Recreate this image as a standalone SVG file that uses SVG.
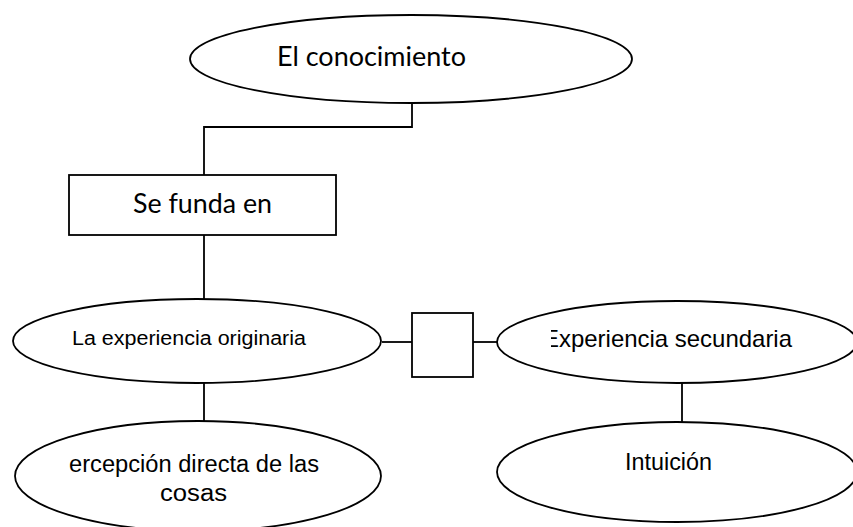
<svg xmlns="http://www.w3.org/2000/svg" width="853" height="527" viewBox="0 0 853 527">
<defs>
<style>
.shape{fill:#fff;stroke:#000;stroke-width:1.8}
.conn{fill:none;stroke:#000;stroke-width:1.8}
.cal{font-family:Lato,"Open Sans","Noto Sans",sans-serif;fill:#000}
.ar{font-family:"Liberation Sans",Arial,sans-serif;fill:#000}
</style>
<clipPath id="clipSec"><rect x="551" y="290" width="310" height="100"/></clipPath>
</defs>
<rect width="853" height="527" fill="#fff"/>
<g id="connectors">
<polyline class="conn" points="412,103 412,127 204,127 204,175"/>
<line class="conn" x1="204" y1="235" x2="204" y2="300"/>
<line class="conn" x1="382" y1="342" x2="412" y2="342"/>
<line class="conn" x1="473" y1="342" x2="497" y2="342"/>
<line class="conn" x1="204" y1="383" x2="204" y2="421"/>
<line class="conn" x1="682" y1="383" x2="682" y2="422"/>
</g>
<g id="node-conocimiento">
<ellipse class="shape" cx="411" cy="59" rx="221" ry="44"/>
<text class="cal" x="277" y="66" font-size="26" textLength="189" lengthAdjust="spacingAndGlyphs">El conocimiento</text>
</g>
<g id="node-funda">
<rect class="shape" x="69" y="175" width="267" height="60"/>
<text class="cal" x="133" y="213" font-size="26" textLength="139" lengthAdjust="spacingAndGlyphs">Se funda en</text>
</g>
<g id="node-originaria">
<ellipse class="shape" cx="197" cy="341" rx="184" ry="42"/>
<text class="ar" x="72" y="345" font-size="20" textLength="234" lengthAdjust="spacingAndGlyphs">La experiencia originaria</text>
</g>
<g id="node-box">
<rect class="shape" x="412" y="313" width="61" height="64"/>
</g>
<g id="node-secundaria">
<ellipse class="shape" cx="677" cy="342" rx="180" ry="41"/>
<text class="ar" x="792" y="347" font-size="24" text-anchor="end" textLength="249" lengthAdjust="spacingAndGlyphs" clip-path="url(#clipSec)">Experiencia secundaria</text>
</g>
<g id="node-percepcion">
<ellipse class="shape" cx="198" cy="476" rx="183" ry="55"/>
<text class="ar" x="69" y="472" font-size="23" textLength="250" lengthAdjust="spacingAndGlyphs">ercepción directa de las</text>
<text class="ar" x="160" y="501" font-size="23" textLength="67" lengthAdjust="spacingAndGlyphs">cosas</text>
</g>
<g id="node-intuicion">
<ellipse class="shape" cx="677" cy="472" rx="180" ry="50"/>
<text class="ar" x="625" y="470" font-size="23" textLength="87" lengthAdjust="spacingAndGlyphs">Intuición</text>
</g>
</svg>
